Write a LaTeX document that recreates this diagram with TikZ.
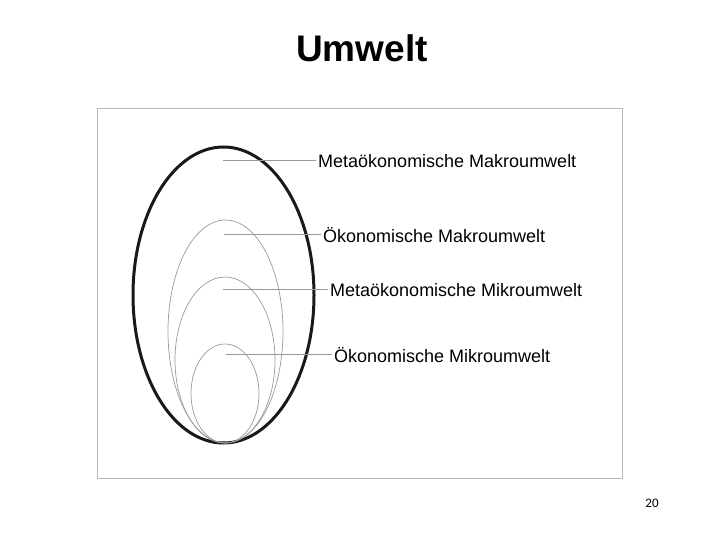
\documentclass[tikz,border=0pt]{standalone}
\usepackage{fontspec}
\setmainfont{Liberation Sans}
\newfontfamily\numfont{Carlito}
\usetikzlibrary{shapes.geometric}
\tikzset{
  el/.style={ellipse, draw=gray!80, line width=0.7pt, inner sep=0pt},
  lb/.style={anchor=west, inner xsep=2pt, inner ysep=0pt, font=\fontsize{18}{20}\selectfont},
  fr/.style={draw=gray!55, line width=1pt, inner sep=0pt}
}

\begin{document}
\begin{tikzpicture}[x=1pt, y=-1pt, line/.style={draw=gray!80, line width=0.9pt}]
  \useasboundingbox (0,0) rectangle (720,540);
  \node[font=\bfseries\fontsize{37}{40}\selectfont] (title) at (362,48) {Umwelt};
  \node[fr, minimum width=525, minimum height=369] (frame) at (359.5,293.5) {};
  % ellipses, all touching at the bottom
  \node[el, draw=black!90, line width=3pt, minimum width=181, minimum height=296] (mma) at (223.5,295) {};
  \node[el, minimum width=115, minimum height=223] (oma) at (225.5,331.5) {};
  \node[el, minimum width=100, minimum height=166] (mmi) at (225,360) {};
  \node[el, minimum width=68, minimum height=99] (omi) at (225,393.5) {};
  \coordinate (mma-in) at (223,160);
  \coordinate (oma-in) at (224,234);
  \coordinate (mmi-in) at (223,289);
  \coordinate (omi-in) at (226,354);
  \node[lb] (mma-l) at (316,161.5) {Metaökonomische Makroumwelt};
  \node[lb] (oma-l) at (321,235) {Ökonomische Makroumwelt};
  \node[lb] (mmi-l) at (328,290.5) {Metaökonomische Mikroumwelt};
  \node[lb] (omi-l) at (332,355) {Ökonomische Mikroumwelt};
  \begin{scope}[every path/.style=line]
    \path (mma-in) -- (mma-in -| mma-l.west);
    \path (oma-in) -- (oma-in -| oma-l.west);
    \path (mmi-in) -- (mmi-in -| mmi-l.west);
    \path (omi-in) -- (omi-in -| omi-l.west);
  \end{scope}
  \node[font=\numfont\fontsize{13}{15}\selectfont] (page) at (652,503.5) {20};
\end{tikzpicture}
\end{document}
